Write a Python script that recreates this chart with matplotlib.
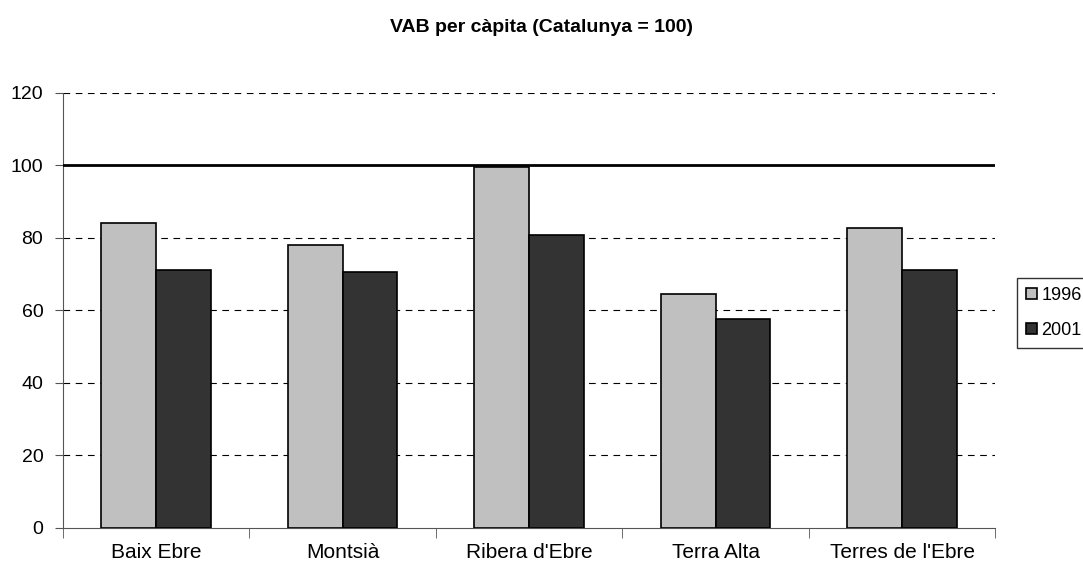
import matplotlib.pyplot as plt
import numpy as np

plt.rcParams['font.family'] = ['Liberation Sans', 'DejaVu Sans']

comarques = ["Baix Ebre", "Montsià", "Ribera d'Ebre", "Terra Alta", "Terres de l'Ebre"]
vab_1996 = [84.1, 78.0, 99.6, 64.5, 82.8]
vab_2001 = [71.2, 70.6, 80.8, 57.7, 71.2]
y_ticks = [0, 20, 40, 60, 80, 100, 120]

fig = plt.figure(figsize=(10.83, 5.7), dpi=100)
ax = fig.add_axes([0.058, 0.074, 0.861, 0.763])

x = np.arange(len(comarques))
w = 0.293
ax.bar(x - w / 2, vab_1996, w, color="#c0c0c0", edgecolor="black", linewidth=1.2, label="1996", zorder=3)
ax.bar(x + w / 2, vab_2001, w, color="#333333", edgecolor="black", linewidth=1.2, label="2001", zorder=3)

for v in y_ticks[1:]:
    if v == 100:
        ax.axhline(v, color="black", linewidth=2, zorder=4)
    else:
        ax.axhline(v, color="black", linewidth=0.8, dashes=(6, 5), zorder=1)

ax.set_xlim(-0.5, len(comarques) - 0.5)
ax.set_ylim(0, 120)
ax.set_yticks(y_ticks)
ax.set_xticks(x)
ax.set_xticklabels(comarques, fontsize=15)
ax.set_xticks(np.arange(len(comarques) + 1) - 0.5, minor=True)
ax.tick_params(axis="x", which="major", length=0, pad=11)
ax.tick_params(axis="x", which="minor", length=7, direction="out", color="#555555")
ax.tick_params(axis="y", length=6, direction="out", color="#555555", labelsize=14, pad=8)

for s in ["top", "right"]:
    ax.spines[s].set_visible(False)
ax.spines["left"].set_color("#555555")
ax.spines["bottom"].set_color("#555555")

fig.text(0.5, 0.952, "VAB per càpita (Catalunya = 100)", ha="center", va="center",
         fontsize=14, fontweight="bold")

fig.legend(loc="center left", bbox_to_anchor=(0.939, 0.451), fontsize=13,
           frameon=True, fancybox=False, edgecolor="black", handlelength=0.6,
           handleheight=0.6, handletextpad=0.25, labelspacing=1.0, borderpad=0.5,
           borderaxespad=0)

fig.savefig("out.png", dpi=100)
